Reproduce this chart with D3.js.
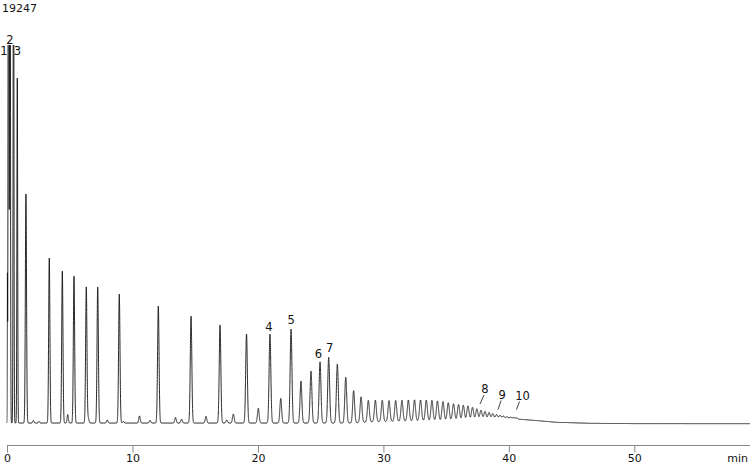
<!DOCTYPE html>
<html>
<head>
<meta charset="utf-8">
<script src="https://cdn.jsdelivr.net/npm/d3@7"></script>
<style>
  html, body { margin: 0; padding: 0; background: #fff; }
  svg { display: block; }
  text { font-family: "DejaVu Sans", Verdana, sans-serif; fill: #111; }
</style>
</head>
<body>
<svg id="chart" width="750" height="465"></svg>
<script>
// ---- data ----
const yMaxLabel = "19247";
const xTicks = [0, 10, 20, 30, 40, 50];
const xUnit = "min";

// retention times (min) and heights (signal units above local baseline)
const peakTimes = [
  0.03, 0.12, 0.24, 0.52, 0.82, 1.51, 2.10, 2.55, 3.37, 4.41, 4.84, 5.34, 6.32, 6.48,
  7.23, 7.99, 8.95, 9.27, 10.56, 11.40, 12.06, 13.43, 13.92, 14.67, 15.86, 16.98,
  17.51, 18.04, 19.09, 20.03, 20.96, 21.82, 22.64, 23.43, 24.23, 24.95, 25.64,
  26.33, 27.00, 27.63, 28.22, 28.80, 29.36, 29.91, 30.45, 30.98, 31.48, 31.99,
  32.48, 32.96, 33.42, 33.87, 34.31, 34.75, 35.17, 35.59, 35.99, 36.37, 36.74,
  37.10, 37.45, 37.78, 38.10, 38.42, 38.72, 39.02, 39.30, 39.57, 39.85, 40.12,
  40.37, 40.61
];
const peakHeights = [
  7160, 40000, 40000, 30000, 17520, 11630, 130, 80, 8380, 7720, 430, 7460, 6910, 250,
  6910, 150, 6550, 80, 360, 130, 5940, 280, 190, 5430, 340, 4980,
  150, 450, 4520, 750, 4520, 1250, 4770, 2130, 2640, 3110, 3340,
  3000, 2320, 1640, 1300, 1100, 1100, 1080, 1060, 1060, 1060, 1070,
  1070, 1060, 1050, 1030, 1000, 960, 900, 840, 800, 760, 720,
  640, 560, 480, 420, 360, 300, 250, 210, 170, 140, 110,
  90, 70
];

// slowly varying baseline (min, signal)
const baseTimes  = [0, 27.5, 29, 32, 36, 39, 40.9, 42.3, 43.8, 46.5, 50, 59.2];
const baseValues = [50, 50, 110, 150, 190, 230, 240, 170, 86, 36, 18, 15];

// labelled peaks
const labelNames = ["1", "2", "3", "4", "5", "6", "7", "8", "9", "10"];
const labelTimes = [0.12, 0.24, 0.52, 20.96, 22.64, 24.95, 25.64, 37.78, 39.30, 40.61];

// ---- drawing ----
const W = 750, H = 465;
const svg = d3.select("#chart");

const x = d3.scaleLinear().domain([0, 59.22]).range([7, 750]);
const y = d3.scaleLinear().domain([0, 19247]).range([424, 45]);

svg.append("defs").append("clipPath").attr("id", "plotclip")
  .append("rect").attr("x", 6.5).attr("y", 45).attr("width", W).attr("height", 400);

const baseAt = t => {
  const i = d3.bisectRight(baseTimes, t);
  if (i <= 0) return baseValues[0];
  if (i >= baseTimes.length) return baseValues[baseValues.length - 1];
  const t0 = baseTimes[i - 1], t1 = baseTimes[i];
  const f = (t - t0) / (t1 - t0);
  return baseValues[i - 1] + f * (baseValues[i] - baseValues[i - 1]);
};
const sigmaAt = t => (t < 0.08 ? 0.014 : t < 1 ? 0.03 : 0.045 + 0.0011 * t);   // drawing only

const step = 0.003;
const tMax = x.domain()[1];
const trace = [];
for (let t = -0.04; t <= tMax + 1e-9; t += step) {
  let v = baseAt(Math.max(t, 0));
  for (let k = 0; k < peakTimes.length; k++) {
    const s = sigmaAt(peakTimes[k]);
    const d = (t - peakTimes[k]) / s;
    if (Math.abs(d) < 8) v += peakHeights[k] * Math.exp(-0.5 * d * d);
  }
  trace.push([t, v]);
}

svg.append("path")
  .datum(trace)
  .attr("clip-path", "url(#plotclip)")
  .attr("fill", "none")
  .attr("stroke", "#111")
  .attr("stroke-width", 0.9)
  .attr("stroke-linejoin", "round")
  .attr("d", d3.line().x(d => x(d[0])).y(d => y(Math.min(d[1], 60000))));

// x axis
const axisY = 445.5;
const axis = d3.axisBottom(x).tickValues(xTicks).tickSize(7).tickSizeOuter(0).tickPadding(2);
const gAxis = svg.append("g").attr("transform", `translate(0,${axisY})`).call(axis);
gAxis.select(".domain").attr("stroke", "#888").attr("d", `M${x(0)},0H${W}`);
gAxis.selectAll(".tick line").attr("stroke", "#888");
gAxis.selectAll(".tick text")
  .attr("font-family", "DejaVu Sans, Verdana, sans-serif")
  .attr("font-size", 11).attr("fill", "#111");

svg.append("text").attr("x", 748).attr("y", 462).attr("text-anchor", "end")
  .attr("font-size", 11).text(xUnit);

svg.append("text").attr("x", 2).attr("y", 12).attr("font-size", 11).text(yMaxLabel);

// peak labels (layout offsets in px: dx, baseline y, leader)
const labelLayout = [
  {dx: -4.5, yb: 55}, {dx: 0, yb: 44}, {dx: 4, yb: 55},
  {dx: -1, yb: 331}, {dx: 0, yb: 324}, {dx: -1.5, yb: 358}, {dx: 1, yb: 352},
  {dx: 4, yb: 393, lead: [[-1, 2], [-5, 11]]},
  {dx: 2, yb: 398.5, lead: [[-1, 2], [-4, 11]]},
  {dx: 6, yb: 399.5, lead: [[-3, 2], [-6, 10]]}
];
labelNames.forEach((name, i) => {
  const L = labelLayout[i];
  const cx = x(labelTimes[i]) + L.dx;
  svg.append("text").attr("x", cx).attr("y", L.yb).attr("text-anchor", "middle")
    .attr("font-size", 11.5).text(name);
  if (L.lead) {
    svg.append("line")
      .attr("x1", cx + L.lead[0][0]).attr("y1", L.yb + L.lead[0][1])
      .attr("x2", cx + L.lead[1][0]).attr("y2", L.yb + L.lead[1][1])
      .attr("stroke", "#111").attr("stroke-width", 0.8);
  }
});
</script>
</body>
</html>
